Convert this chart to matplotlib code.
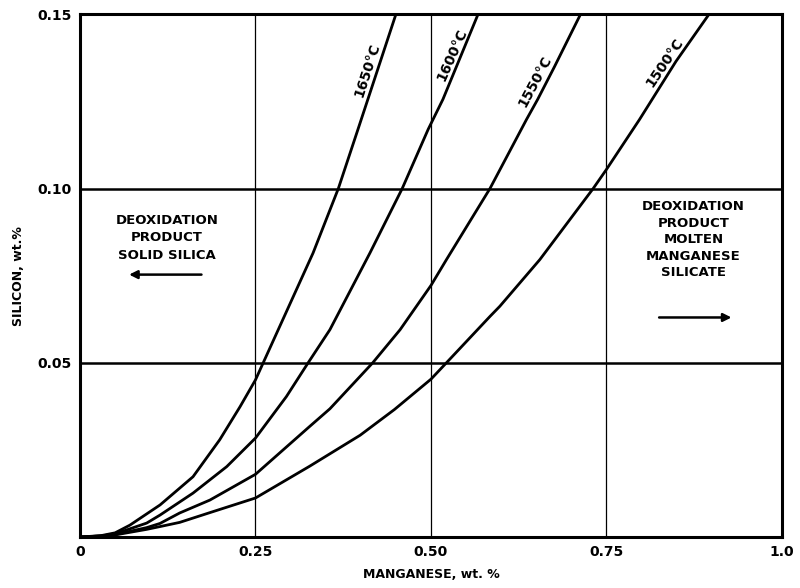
import matplotlib.pyplot as plt

plt.rcParams['font.family'] = 'DejaVu Sans'
plt.rcParams['font.weight'] = 'bold'

# curves: manganese (wt.%) vs silicon (wt.%)
mn_1650 = [0.0, 0.03, 0.05, 0.071, 0.114, 0.161, 0.199, 0.228, 0.25, 0.261, 0.332,
           0.368, 0.396, 0.45]
si_1650 = [0.0, 0.0004, 0.0012, 0.0034, 0.0092, 0.0173, 0.0279, 0.0374, 0.0451, 0.05, 0.0815,
           0.10, 0.117, 0.15]

mn_1600 = [0.0, 0.03, 0.05, 0.095, 0.114, 0.161, 0.209, 0.25, 0.294, 0.325, 0.356, 0.413, 0.459,
           0.496, 0.517, 0.567]
si_1600 = [0.0, 0.0003, 0.0009, 0.004, 0.0063, 0.0126, 0.0202, 0.0284, 0.0403, 0.05, 0.0595, 0.0815, 0.10,
           0.117, 0.1256, 0.15]

mn_1550 = [0.0, 0.03, 0.05, 0.095, 0.114, 0.142, 0.185, 0.25, 0.327, 0.356, 0.399, 0.417, 0.456,
           0.50, 0.522, 0.584, 0.636, 0.652, 0.676, 0.713]
si_1550 = [0.0, 0.0003, 0.0007, 0.0027, 0.0039, 0.0069, 0.0106, 0.018, 0.0317, 0.0368, 0.0461, 0.05, 0.0595,
           0.0722, 0.0796, 0.10, 0.1198, 0.1256, 0.135, 0.15]

mn_1500 = [0.0, 0.03, 0.05, 0.095, 0.114, 0.142, 0.185, 0.25, 0.327, 0.399, 0.448, 0.50, 0.522,
           0.584, 0.598, 0.655, 0.731, 0.75, 0.797, 0.849, 0.896]
si_1500 = [0.0, 0.0002, 0.0006, 0.0022, 0.003, 0.0042, 0.0070, 0.0112, 0.0203, 0.0292, 0.0366, 0.0453, 0.05,
           0.0633, 0.0662, 0.0796, 0.10, 0.1055, 0.1198, 0.1365, 0.15]

curve_labels = ["1650°C", "1600°C", "1550°C", "1500°C"]
label_x = [0.409, 0.530, 0.648, 0.833]
label_y = [0.1339, 0.1385, 0.1307, 0.1362]
label_rot = [72, 66, 62, 56]

x_ticks = [0, 0.25, 0.50, 0.75, 1.0]
x_ticklabels = ["0", "0.25", "0.50", "0.75", "1.0"]
y_ticks = [0, 0.05, 0.10, 0.15]
y_ticklabels = ["", "0.05", "0.10", "0.15"]

fig = plt.figure(figsize=(8, 5.88), dpi=100)
ax = fig.add_axes([0.1, 0.0867, 0.8775, 0.889])

for xv in [0.25, 0.50, 0.75]:
    ax.axvline(xv, color='black', lw=0.9, zorder=1)
for yv in [0.05, 0.10]:
    ax.axhline(yv, color='black', lw=1.8, zorder=1)

for mx, sy in [(mn_1650, si_1650), (mn_1600, si_1600), (mn_1550, si_1550), (mn_1500, si_1500)]:
    ax.plot(mx, sy, color='black', lw=2.0, solid_joinstyle='round', zorder=3)

for txt, lx, ly, rot in zip(curve_labels, label_x, label_y, label_rot):
    ax.text(lx, ly, txt, rotation=rot, ha='center', va='center', fontsize=10,
            fontweight='bold', rotation_mode='anchor')

ax.text(0.124, 0.0859, "DEOXIDATION\nPRODUCT\nSOLID SILICA", ha='center', va='center',
        fontsize=9.5, fontweight='bold', linespacing=1.45)
ax.annotate("", xy=(0.066, 0.0753), xytext=(0.177, 0.0753),
            arrowprops=dict(arrowstyle='-|>', color='black', lw=1.8, mutation_scale=12))

ax.text(0.874, 0.0853, "DEOXIDATION\nPRODUCT\nMOLTEN\nMANGANESE\nSILICATE", ha='center', va='center',
        fontsize=9.5, fontweight='bold', linespacing=1.35)
ax.annotate("", xy=(0.932, 0.063), xytext=(0.821, 0.063),
            arrowprops=dict(arrowstyle='-|>', color='black', lw=1.8, mutation_scale=12))

ax.set_xlim(0, 1.0)
ax.set_ylim(0, 0.15)
ax.set_xticks(x_ticks)
ax.set_xticklabels(x_ticklabels, fontsize=10, fontweight='bold')
ax.set_yticks(y_ticks)
ax.set_yticklabels(y_ticklabels, fontsize=10, fontweight='bold')
ax.tick_params(length=0, pad=6)
for sp in ax.spines.values():
    sp.set_linewidth(2.2)

ax.set_xlabel("MANGANESE, wt. %", fontsize=9, fontweight='bold', labelpad=6)
ax.set_ylabel("SILICON, wt.%", fontsize=9, fontweight='bold', labelpad=9)

fig.savefig("out.png", dpi=100)
